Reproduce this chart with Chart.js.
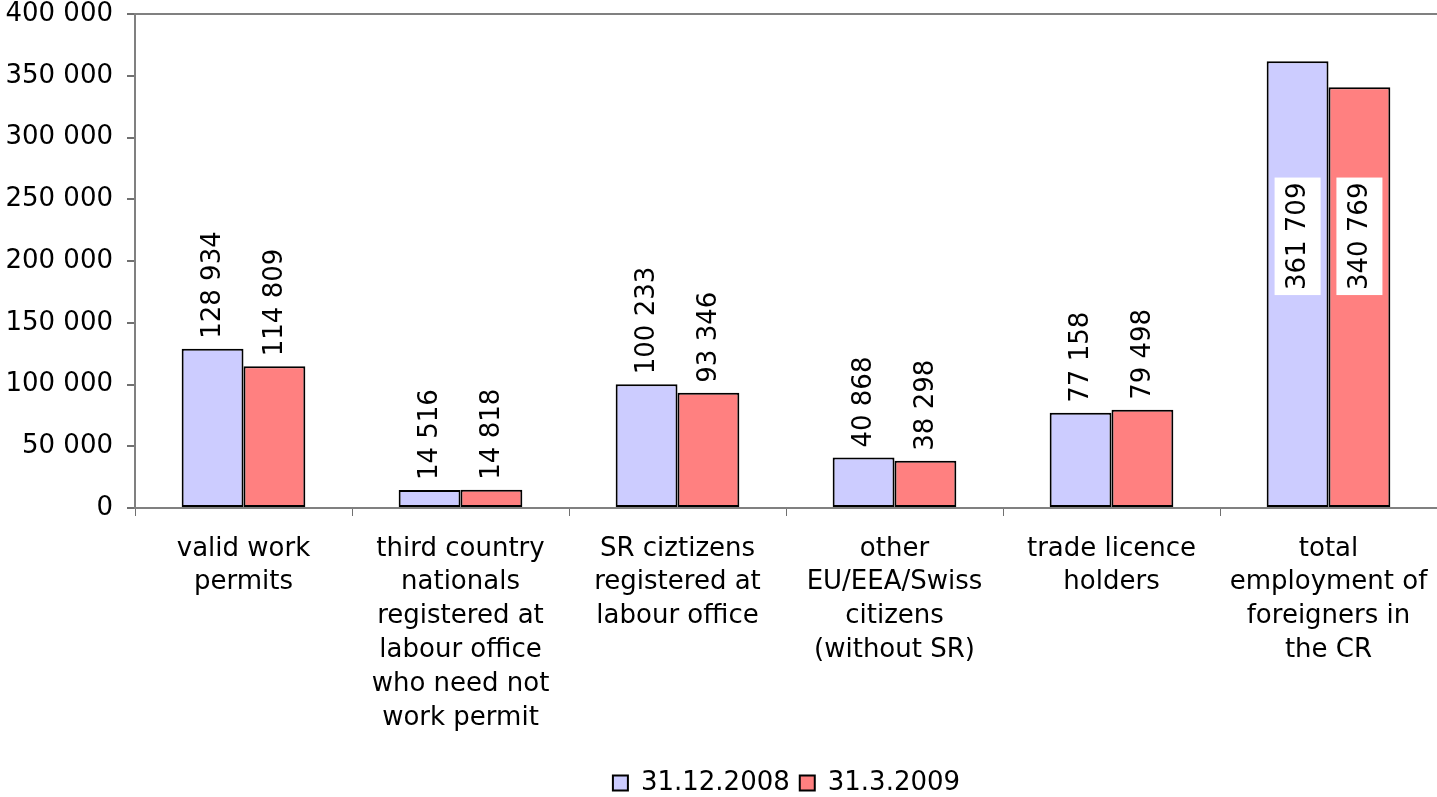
<!DOCTYPE html>
<html>
<head>
<meta charset="utf-8">
<script src="https://cdn.jsdelivr.net/npm/chart.js@4"></script>
<style>
  html, body { margin: 0; padding: 0; background: #fff; }
  #wrap { width: 1437px; height: 797px; }
</style>
</head>
<body>
<div id="wrap"><canvas id="chart" width="1437" height="797"></canvas></div>
<script>
// categories (multi-line labels as in the original)
const categories = [
  ["valid work", "permits"],
  ["third country", "nationals", "registered at", "labour office", "who need not", "work permit"],
  ["SR ciztizens", "registered at", "labour office"],
  ["other", "EU/EEA/Swiss", "citizens", "(without SR)"],
  ["trade licence", "holders"],
  ["total", "employment of", "foreigners in", "the CR"]
];
const seriesNames = ["31.12.2008", "31.3.2009"];
const values2008 = [128934, 14516, 100233, 40868, 77158, 361709];
const values2009 = [114809, 14818, 93346, 38298, 79498, 340769];
const yTicks = [0, 50000, 100000, 150000, 200000, 250000, 300000, 350000, 400000];

const FONT = "'DejaVu Sans', Verdana, sans-serif";
const FS = 26;
const fmt = v => String(v).replace(/\B(?=(\d{3})+(?!\d))/g, " ");

// value labels: rotated above bars, inside with white box for the last (tall) group
const valueLabels = {
  id: "valueLabels",
  afterLayout(chart) {
    // legend in the original sits a bit right of centre
    if (chart.legend) {
      chart.legend.left += 68;
      chart.legend.right += 68;
    }
  },
  afterDatasetsDraw(chart) {
    const ctx = chart.ctx;
    const yScale = chart.scales.y;
    ctx.save();
    ctx.font = FS + "px " + FONT;
    chart.data.datasets.forEach((ds, di) => {
      const meta = chart.getDatasetMeta(di);
      meta.data.forEach((bar, i) => {
        const text = fmt(ds.data[i]);
        const w = ctx.measureText(text).width;
        ctx.save();
        if (i === categories.length - 1) {
          const cy = yScale.getPixelForValue(220000);
          ctx.fillStyle = "#fff";
          ctx.fillRect(bar.x - 23, cy - w / 2 - 5, 46, w + 10);
          ctx.translate(bar.x, cy);
          ctx.textAlign = "center";
        } else {
          ctx.translate(bar.x, bar.y - 10);
          ctx.textAlign = "left";
        }
        ctx.rotate(-Math.PI / 2);
        ctx.textBaseline = "middle";
        ctx.fillStyle = "#000";
        ctx.fillText(text, 0, 1);
        ctx.restore();
      });
    });
    ctx.restore();
  }
};

new Chart(document.getElementById("chart").getContext("2d"), {
  type: "bar",
  data: {
    labels: categories,
    datasets: [
      {
        label: seriesNames[0],
        data: values2008,
        backgroundColor: "#CCCCFF",
        borderColor: "#000",
        borderWidth: 2,
        borderSkipped: false,
        barPercentage: 1.0,
        categoryPercentage: 0.57
      },
      {
        label: seriesNames[1],
        data: values2009,
        backgroundColor: "#FF8080",
        borderColor: "#000",
        borderWidth: 2,
        borderSkipped: false,
        barPercentage: 1.0,
        categoryPercentage: 0.57
      }
    ]
  },
  options: {
    responsive: false,
    animation: false,
    layout: { padding: { top: 0, left: 0, right: 0, bottom: -9 } },
    plugins: {
      legend: {
        position: "bottom",
        labels: {
          color: "#000",
          font: { family: FONT, size: FS },
          boxWidth: 15,
          boxHeight: 15,
          padding: 10
        }
      },
      tooltip: { enabled: false }
    },
    scales: {
      x: {
        grid: {
          drawOnChartArea: false,
          tickLength: 8,
          color: "#707070",
          offset: true
        },
        border: { color: "#808080", width: 2 },
        ticks: {
          color: "#000",
          font: { family: FONT, size: FS, lineHeight: 1.3 },
          padding: 16,
          maxRotation: 0,
          autoSkip: false
        },
        afterFit: s => {
          s.height = 252;
          s.paddingLeft = 0;
          s.paddingRight = 0;
        }
      },
      y: {
        min: 0,
        max: 400000,
        afterBuildTicks: s => { s.ticks = yTicks.map(v => ({ value: v })); },
        grid: {
          drawOnChartArea: true,
          color: c => (c.tick && c.tick.value === 400000 ? "#808080" : "rgba(0,0,0,0)"),
          tickColor: "#707070",
          tickLength: 8,
          lineWidth: 2
        },
        border: { color: "#808080", width: 2 },
        ticks: {
          color: "#000",
          font: { family: FONT, size: FS },
          padding: 14,
          callback: v => fmt(v)
        },
        afterFit: s => {
          s.width = 135;
          s.paddingTop = 14;
          s.paddingBottom = 0;
        }
      }
    }
  },
  plugins: [valueLabels]
});
</script>
</body>
</html>
